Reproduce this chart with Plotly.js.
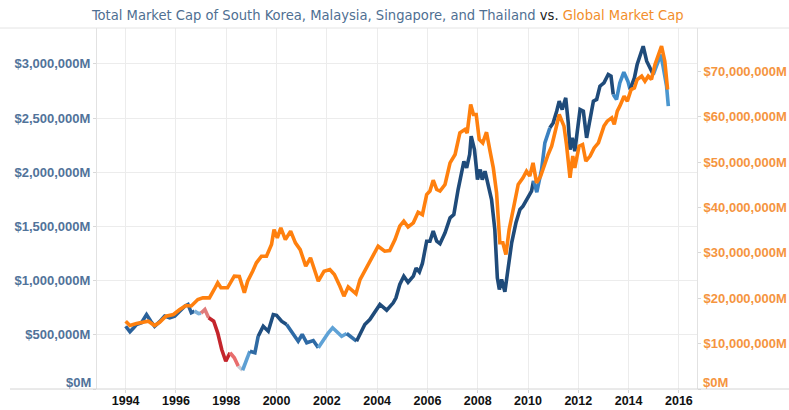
<!DOCTYPE html>
<html><head><meta charset="utf-8">
<script src="https://cdn.plot.ly/plotly-3.0.1.min.js"></script>
<style>html,body{margin:0;padding:0;background:#fff}#chart{width:789px;height:410px}</style>
</head><body><div id="chart"></div>
<script>
// ---- DATA (values in $M) ----
const blueYears = [1994.00,1994.17,1994.30,1994.43,1994.63,1994.83,1995.00,1995.15,1995.35,1995.55,1995.75,1995.95,1996.15,1996.35,1996.48,1996.61,1996.74,1996.90,1997.00,1997.15,1997.30,1997.50,1997.66,1997.82,1997.98,1998.15,1998.32,1998.48,1998.65,1998.80,1998.94,1999.14,1999.27,1999.47,1999.67,1999.87,2000.00,2000.20,2000.40,2000.60,2000.86,2001.02,2001.20,2001.46,2001.66,2001.86,2002.06,2002.23,2002.40,2002.59,2002.79,2003.18,2003.51,2003.71,2004.11,2004.38,2004.64,2004.75,2004.90,2005.06,2005.23,2005.44,2005.55,2005.68,2005.80,2005.97,2006.10,2006.23,2006.37,2006.50,2006.70,2006.90,2007.05,2007.22,2007.36,2007.45,2007.56,2007.68,2007.74,2007.87,2007.94,2007.99,2008.10,2008.18,2008.29,2008.42,2008.55,2008.68,2008.78,2008.86,2008.95,2009.08,2009.21,2009.35,2009.52,2009.68,2009.80,2010.01,2010.14,2010.22,2010.35,2010.54,2010.67,2010.87,2011.00,2011.14,2011.24,2011.36,2011.50,2011.60,2011.67,2011.76,2011.86,2012.07,2012.20,2012.33,2012.46,2012.60,2012.73,2012.86,2013.02,2013.19,2013.30,2013.39,2013.52,2013.65,2013.81,2013.97,2014.06,2014.23,2014.34,2014.58,2014.72,2014.86,2014.98,2015.12,2015.28,2015.37,2015.51,2015.58];
const blueValues = [579000,528000,560000,595000,611000,687000,625000,579000,621000,672000,657000,672000,718000,764000,780000,703000,718000,696000,700000,733000,657000,625000,518000,364000,256000,334000,288000,210000,173000,272000,349000,334000,487000,579000,533000,687000,680000,625000,595000,533000,441000,503000,426000,447000,380000,457000,518000,565000,533000,487000,512000,441000,595000,641000,780000,727000,795000,841000,965000,1041000,985000,1041000,1115000,1080000,1158000,1363000,1363000,1456000,1363000,1340000,1441000,1579000,1610000,1840000,2009000,2100000,2040000,2165000,2332000,2209000,2055000,1932000,2025000,1932000,2009000,1871000,1748000,1471000,1026000,918000,1010000,897000,1133000,1349000,1533000,1656000,1687000,1764000,1825000,1920000,1815000,2025000,2271000,2409000,2455000,2563000,2655000,2578000,2686000,2455000,2209000,2317000,2194000,2578000,2563000,2317000,2501000,2655000,2671000,2793000,2824000,2901000,2886000,2717000,2671000,2824000,2922000,2840000,2763000,2870000,2993000,3162000,3024000,2947000,2901000,2978000,3085000,2978000,2793000,2609000];

const orangeYears = [1994.00,1994.17,1994.43,1994.63,1994.90,1995.15,1995.35,1995.60,1995.90,1996.15,1996.40,1996.61,1996.87,1997.07,1997.33,1997.52,1997.66,1997.79,1998.05,1998.32,1998.52,1998.72,1998.85,1999.05,1999.20,1999.40,1999.60,1999.80,1999.90,2000.03,2000.17,2000.35,2000.56,2000.75,2000.94,2001.16,2001.35,2001.66,2001.89,2002.12,2002.30,2002.52,2002.68,2002.85,2003.16,2003.32,2003.65,2004.04,2004.30,2004.50,2004.71,2004.90,2005.06,2005.23,2005.44,2005.63,2005.80,2005.97,2006.10,2006.23,2006.37,2006.50,2006.70,2006.90,2007.10,2007.29,2007.49,2007.58,2007.72,2007.83,2007.94,2008.06,2008.20,2008.35,2008.49,2008.62,2008.75,2008.88,2009.00,2009.12,2009.25,2009.41,2009.61,2009.80,2009.94,2010.07,2010.20,2010.34,2010.50,2010.80,2010.94,2011.10,2011.24,2011.43,2011.53,2011.67,2011.78,2011.86,2012.03,2012.17,2012.30,2012.47,2012.63,2012.80,2013.02,2013.15,2013.33,2013.43,2013.55,2013.65,2013.82,2013.95,2014.10,2014.23,2014.34,2014.52,2014.65,2014.78,2014.91,2015.05,2015.18,2015.31,2015.44,2015.55];
const orangeValues = [14930000,13990000,14430000,14600000,14930000,13990000,14700000,16040000,16410000,17510000,18390000,18300000,19710000,20080000,20080000,21920000,23390000,22290000,22290000,24850000,24800000,21190000,23740000,25950000,27800000,29250000,29250000,31830000,35100000,33300000,35500000,32900000,34760000,32200000,30700000,27050000,28900000,23740000,25950000,26320000,25200000,22640000,20440000,22500000,20970000,24100000,27400000,31450000,30350000,30500000,32900000,35860000,36960000,35700000,36600000,38940000,38400000,42840000,43600000,46000000,43940000,43600000,45040000,49820000,51650000,56430000,57160000,56400000,62670000,60460000,60460000,54960000,54200000,56560000,52380000,48700000,43200000,32200000,32200000,29600000,35100000,39160000,45040000,46500000,47970000,46900000,49820000,45400000,46870000,51650000,53500000,57160000,60460000,57900000,53850000,46520000,51300000,48700000,53480000,53850000,50180000,51300000,53100000,54200000,57900000,59000000,59740000,58270000,61200000,62300000,64500000,63400000,65970000,66300000,68170000,68900000,67800000,68900000,68200000,71500000,73500000,75500000,72200000,65970000];

const xTickYears = [1994,1996,1998,2000,2002,2004,2006,2008,2010,2012,2014,2016];
const leftTicks = [0,500000,1000000,1500000,2000000,2500000,3000000];
const rightTicks = [0,10000000,20000000,30000000,40000000,50000000,60000000,70000000];

// ---- STYLE: colour bands of the regional line (start year, colour) ----
const blueBands = [
  [1990,'#2a619a'],[1996.85,'#7fb2da'],[1997.05,'#e07b7b'],[1997.35,'#c4252c'],
  [1998.2,'#e86d6d'],[1998.55,'#c9cdd6'],[1998.7,'#5d9fd3'],[1999.1,'#2f6aa3'],
  [1999.4,'#1f4e80'],[2000.55,'#2e6aa5'],[2001.85,'#5fa2d6'],[2002.8,'#3371ab'],
  [2003.2,'#1f4b7a'],[2010.3,'#3a80c0'],[2010.9,'#1f4b7a'],[2013.45,'#3f8bc8'],
  [2014.1,'#1f4b7a'],[2015.0,'#4b97cf']
];
function bandOf(y){let c=0;for(let i=0;i<blueBands.length;i++){if(y>=blueBands[i][0])c=i;}return c;}

const traces = [];
let start = 0;
for (let i = 1; i <= blueYears.length; i++) {
  if (i === blueYears.length || bandOf(blueYears[i]) !== bandOf(blueYears[start])) {
    const from = start > 0 ? start - 1 : 0;
    traces.push({
      x: blueYears.slice(from, i), y: blueValues.slice(from, i),
      type: 'scatter', mode: 'lines', yaxis: 'y',
      line: {color: blueBands[bandOf(blueYears[start])][1], width: 3.6},
      hoverinfo: 'skip', showlegend: false
    });
    start = i;
  }
}
traces.push({
  x: orangeYears, y: orangeValues, type: 'scatter', mode: 'lines', yaxis: 'y2',
  line: {color: '#ff800e', width: 3.6}, hoverinfo: 'skip', showlegend: false
});

const money = (v) => '$' + v.toLocaleString('en-US') + 'M';
// the $0M labels sit a little above their tick, as in the original; drawn as annotations
const tickText = (arr) => arr.map(v => v === 0 ? '' : money(v));
const tickFont = (c) => ({family: 'Liberation Sans, Arial, sans-serif', size: 13, color: c, weight: 'bold'});

const layout = {
  width: 789, height: 410,
  margin: {l: 97, r: 92, t: 28, b: 21},
  paper_bgcolor: '#fff', plot_bgcolor: '#fff',
  showlegend: false,
  title: {
    text: '<span style="color:#4f6f92">Total Market Cap of South Korea, Malaysia, Singapore, and Thailand</span> <span style="color:#222">vs.</span> <span style="color:#f28e2b">Global Market Cap</span>',
    font: {family: 'DejaVu Sans Condensed, DejaVu Sans, sans-serif', size: 14.6},
    x: 92/789, xanchor: 'left', xref: 'container', y: 1 - 15/410, yanchor: 'middle', yref: 'container'
  },
  xaxis: {
    range: [1992.86, 2016.72], tickmode: 'array', tickvals: xTickYears, ticktext: xTickYears.map(String),
    showgrid: true, gridcolor: '#ececec', gridwidth: 1, zeroline: false, showline: false,
    ticks: 'outside', ticklen: 3, tickcolor: '#d8d8d8', ticklabelstandoff: -3,
    tickfont: {family: 'Liberation Sans, Arial, sans-serif', size: 12.5, color: '#111', weight: 'bold'}
  },
  yaxis: {
    range: [0, 3330258], tickmode: 'array', tickvals: leftTicks, ticktext: tickText(leftTicks),
    showgrid: true, gridcolor: '#ececec', zeroline: false, showline: true, linecolor: '#e2e2e2',
    ticks: 'outside', ticklen: 3, tickcolor: '#d8d8d8', tickfont: tickFont('#51739a')
  },
  yaxis2: {
    overlaying: 'y', side: 'right', range: [0, 79515000], tickmode: 'array', tickvals: rightTicks,
    ticktext: tickText(rightTicks),
    showgrid: false, zeroline: false, showline: true, linecolor: '#e2e2e2',
    ticks: 'outside', ticklen: 3, tickcolor: '#d8d8d8', tickfont: tickFont('#f5953f')
  },
  annotations: [
    {text: money(leftTicks[0]), xref: 'paper', x: 0, xanchor: 'right', xshift: -4, yref: 'y', y: leftTicks[0],
     yanchor: 'middle', yshift: 7, showarrow: false, font: tickFont('#51739a')},
    {text: money(rightTicks[0]), xref: 'paper', x: 1, xanchor: 'left', xshift: 4, yref: 'y2', y: rightTicks[0],
     yanchor: 'middle', yshift: 7, showarrow: false, font: tickFont('#f5953f')}
  ],
  shapes: [
    {type: 'line', xref: 'paper', yref: 'paper', x0: (10-97)/600, x1: (789-97)/600, y0: 0, y1: 0, line: {color: '#d4d4d4', width: 1}},
    {type: 'line', xref: 'paper', yref: 'paper', x0: -97/600, x1: (789-97)/600, y0: 1, y1: 1, line: {color: '#e4e4e4', width: 1}}
  ]
};

Plotly.newPlot('chart', traces, layout, {displayModeBar: false, staticPlot: true});
</script>
</body></html>
